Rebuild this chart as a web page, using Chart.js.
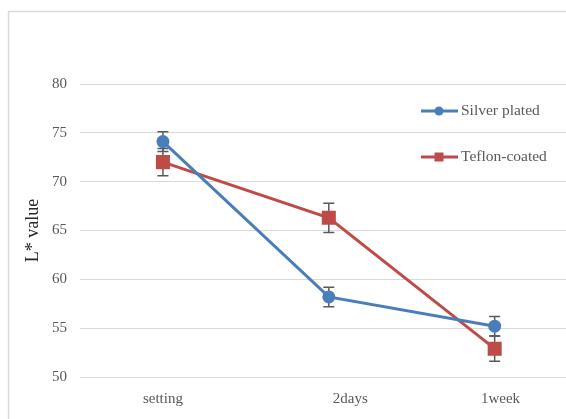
<!DOCTYPE html>
<html>
<head>
<meta charset="utf-8">
<script src="https://cdn.jsdelivr.net/npm/chart.js@4"></script>
<style>
  html, body { margin: 0; padding: 0; background: #fff; overflow: hidden; }
  canvas { display: block; }
</style>
</head>
<body>
<canvas id="c" width="566" height="419"></canvas>
<script>
// Colour measurements over storage time
const categories = ['setting', '2days', '1week'];
const silverPlated = [74.1, 58.2, 55.2];
const silverPlatedErr = [1.0, 1.0, 1.0];
const teflonCoated = [72.0, 66.3, 52.9];
const teflonCoatedErr = [1.4, 1.5, 1.3];
const yTicks = [50, 55, 60, 65, 70, 75, 80];

const BLUE = '#4A7EBB';
const RED = '#BE4B48';
const FONT = "'Liberation Serif', 'Times New Roman', serif";
// small horizontal nudge (in category units) for each category label
const labelNudge = [0, 0.13, 0.035];

// Category index -> point pairs for the linear x axis
const toPoints = vals => vals.map((v, i) => ({ x: i, y: v }));

// Light frame around the whole chart
const framePlugin = {
  id: 'frame',
  beforeDraw(chart) {
    const ctx = chart.ctx;
    ctx.save();
    ctx.strokeStyle = '#d9d9d9';
    ctx.lineWidth = 1.5;
    ctx.strokeRect(8.5, 11.5, 700, 600);
    ctx.restore();
  }
};

// Vertical error bars with caps, one per point
const errorBarPlugin = {
  id: 'errorBars',
  beforeDatasetsDraw(chart) {
    const ctx = chart.ctx;
    const x = chart.scales.x, y = chart.scales.y;
    ctx.save();
    ctx.strokeStyle = '#595959';
    ctx.lineWidth = 1.5;
    chart.data.datasets.forEach(ds => {
      ds.data.forEach((p, i) => {
        const e = ds.errors[i];
        const px = x.getPixelForValue(p.x);
        const top = y.getPixelForValue(p.y + e);
        const bot = y.getPixelForValue(p.y - e);
        ctx.beginPath();
        ctx.moveTo(px, top); ctx.lineTo(px, bot);
        ctx.moveTo(px - 5.5, top); ctx.lineTo(px + 5.5, top);
        ctx.moveTo(px - 5.5, bot); ctx.lineTo(px + 5.5, bot);
        ctx.stroke();
      });
    });
    ctx.restore();
  }
};

// Legend drawn inside the plot, line sample with marker
const legendPlugin = {
  id: 'insideLegend',
  afterDraw(chart) {
    const ctx = chart.ctx;
    const rows = [111, 157];
    ctx.save();
    chart.data.datasets.forEach((ds, i) => {
      const yy = rows[i];
      ctx.strokeStyle = ds.borderColor;
      ctx.lineWidth = 3;
      ctx.beginPath();
      ctx.moveTo(421, yy); ctx.lineTo(458, yy);
      ctx.stroke();
      ctx.fillStyle = ds.borderColor;
      if (ds.pointStyle === 'rect') {
        ctx.fillRect(439 - 4.5, yy - 4.5, 9, 9);
      } else {
        ctx.beginPath();
        ctx.arc(439, yy, 4.5, 0, Math.PI * 2);
        ctx.fill();
      }
      ctx.fillStyle = '#595959';
      ctx.font = '15.5px ' + FONT;
      ctx.textBaseline = 'middle';
      ctx.textAlign = 'left';
      ctx.fillText(ds.label, 461, yy);
    });
    ctx.restore();
  }
};

new Chart(document.getElementById('c'), {
  type: 'line',
  data: {
    datasets: [
      {
        label: 'Silver plated',
        data: toPoints(silverPlated),
        errors: silverPlatedErr,
        borderColor: BLUE,
        backgroundColor: BLUE,
        borderWidth: 3,
        pointStyle: 'circle',
        pointRadius: 5,
        pointHoverRadius: 5,
        tension: 0
      },
      {
        label: 'Teflon-coated',
        data: toPoints(teflonCoated),
        errors: teflonCoatedErr,
        borderColor: RED,
        backgroundColor: RED,
        borderWidth: 3,
        pointStyle: 'rect',
        pointRadius: 7.8,
        pointHoverRadius: 7.8,
        tension: 0
      }
    ]
  },
  options: {
    responsive: false,
    animation: false,
    clip: false,
    layout: { autoPadding: false, padding: { top: 84, right: 0, bottom: 0, left: 0 } },
    plugins: {
      legend: { display: false },
      tooltip: { enabled: false }
    },
    scales: {
      x: {
        type: 'linear',
        min: -0.5,
        max: 2.43,
        afterBuildTicks(s) { s.ticks = categories.map((c, i) => ({ value: i + labelNudge[i] })); },
        grid: { display: false, drawTicks: false },
        border: { display: false },
        ticks: {
          color: '#595959',
          font: { family: FONT, size: 15 },
          padding: 13,
          maxRotation: 0,
          autoSkip: false,
          callback: v => categories[Math.round(v)]
        },
        afterFit(s) { s.height = 42; }
      },
      y: {
        min: 50,
        max: 80,
        afterBuildTicks(s) { s.ticks = yTicks.map(v => ({ value: v })); },
        grid: { color: '#d9d9d9', lineWidth: 1, drawTicks: false },
        border: { display: false },
        ticks: { color: '#595959', font: { family: FONT, size: 15 }, padding: 13 },
        title: {
          display: true,
          text: 'L* value',
          color: '#262626',
          font: { family: FONT, size: 18 },
          padding: { top: 22, bottom: 0 }
        },
        afterFit(s) { s.width = 80; }
      }
    }
  },
  plugins: [framePlugin, errorBarPlugin, legendPlugin]
});
</script>
</body>
</html>
